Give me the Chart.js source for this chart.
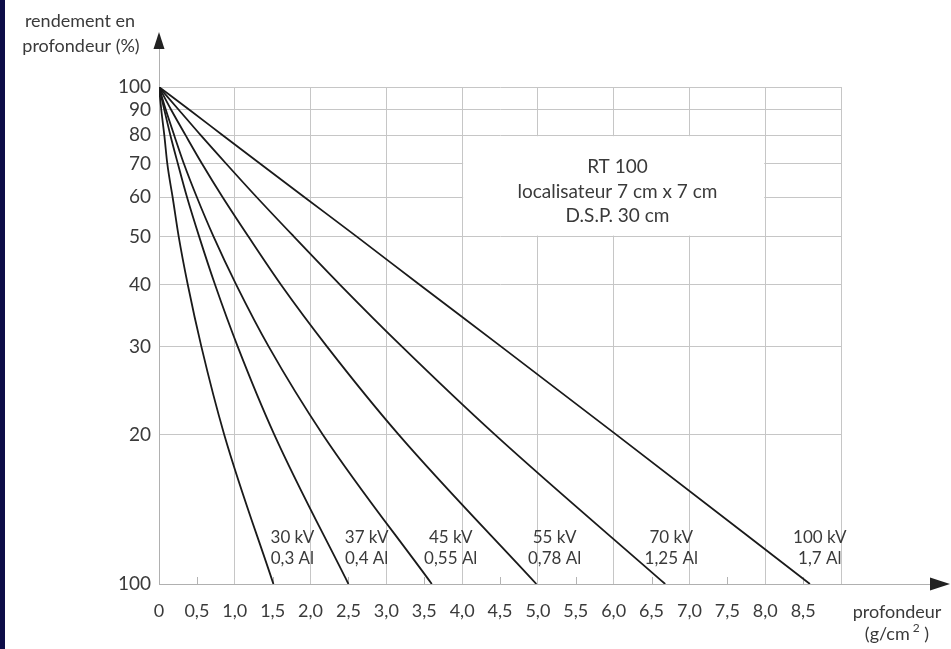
<!DOCTYPE html>
<html><head><meta charset="utf-8">
<script src="https://cdn.jsdelivr.net/npm/chart.js@4/dist/chart.umd.min.js"></script>
<style>
html,body{margin:0;padding:0;background:#fff;}
#wrap{position:relative;width:951px;height:649px;overflow:hidden;background:#fff;}
#edge{position:absolute;left:0;top:0;width:5px;height:649px;background:#0d0d48;}
canvas{position:absolute;left:0;top:0;}
</style></head><body>
<div id="wrap"><canvas id="c" width="951" height="649"></canvas><div id="edge"></div></div>
<script>
// ---- data ----
const doseLevels = [100, 90, 80, 70, 60, 50, 40, 30, 20, 10];   // % (log axis)
const depth30kV  = [0, 0.03, 0.07, 0.11, 0.18, 0.26, 0.38, 0.56, 0.86, 1.51];
const depth37kV  = [0, 0.07, 0.15, 0.25, 0.37, 0.53, 0.74, 1.04, 1.52, 2.50];
const depth45kV  = [0, 0.09, 0.20, 0.33, 0.50, 0.72, 1.02, 1.45, 2.16, 3.60];
const depth55kV  = [0, 0.16, 0.35, 0.57, 0.84, 1.18, 1.61, 2.22, 3.16, 4.98];
const depth70kV  = [0, 0.26, 0.55, 0.89, 1.29, 1.78, 2.39, 3.21, 4.43, 6.68];
const depth100kV = [0, 0.40, 0.84, 1.34, 1.92, 2.61, 3.44, 4.52, 6.03, 8.59];
const seriesKV     = ['30 kV', '37 kV', '45 kV', '55 kV', '70 kV', '100 kV'];
const seriesFilter = ['0,3 Al', '0,4 Al', '0,55 Al', '0,78 Al', '1,25 Al', '1,7 Al'];
const yTickValues = [100, 90, 80, 70, 60, 50, 40, 30, 20, 10];
const yTickLabels = ['100', '90', '80', '70', '60', '50', '40', '30', '20', '100'];
const xTickLabels = ['0','0,5','1,0','1,5','2,0','2,5','3,0','3,5','4,0','4,5','5,0','5,5','6,0','6,5','7,0','7,5','8,0','8,5',''];
const infoLines = ['RT 100', 'localisateur 7 cm x 7 cm', 'D.S.P. 30 cm'];
const xTitle = 'profondeur';
const yTitle = ['rendement en', 'profondeur (%)'];

// ---- label placement (data coords) ----
const seriesLabelX = [1.76, 2.74, 3.85, 5.22, 6.76, 8.72];

const allDepths = [depth30kV, depth37kV, depth45kV, depth55kV, depth70kV, depth100kV];
const FONT = 'Lato, "Open Sans", sans-serif';
const TXT = '#3a3a3a';

const extras = {
  id: 'extras',
  beforeDatasetsDraw(chart) {
    const {ctx, scales: {x, y}} = chart;
    ctx.save();
    // white info box hiding the grid
    const l = x.getPixelForValue(4) + 1, r = x.getPixelForValue(8) - 1;
    const t = y.getPixelForValue(80) + 1, b = y.getPixelForValue(50) - 1;
    ctx.fillStyle = '#fff';
    ctx.fillRect(l, t, r - l, b - t);
    // half-unit tick marks on the x axis
    ctx.strokeStyle = '#b4b4b4'; ctx.lineWidth = 1;
    for (let i = 1; i < xTickLabels.length; i += 2) {
      const px = Math.round(x.getPixelForValue(i * 0.5)) + 0.5;
      ctx.beginPath(); ctx.moveTo(px, y.bottom); ctx.lineTo(px, y.bottom - 7); ctx.stroke();
    }
    ctx.restore();
  },
  afterDraw(chart) {
    const {ctx, scales: {x, y}} = chart;
    const x0 = x.getPixelForValue(0), yb = y.bottom;
    ctx.save();
    // axis extensions
    ctx.strokeStyle = '#b0b0b0'; ctx.lineWidth = 1;
    ctx.beginPath(); ctx.moveTo(Math.round(x0) + 0.5, y.top); ctx.lineTo(Math.round(x0) + 0.5, 48); ctx.stroke();
    ctx.beginPath(); ctx.moveTo(x.right, Math.round(yb) + 0.5); ctx.lineTo(932, Math.round(yb) + 0.5); ctx.stroke();
    // arrow heads
    ctx.fillStyle = '#222';
    ctx.beginPath(); ctx.moveTo(x0, 32); ctx.lineTo(x0 + 5.5, 49); ctx.lineTo(x0 - 5.5, 49); ctx.closePath(); ctx.fill();
    ctx.beginPath(); ctx.moveTo(950, yb); ctx.lineTo(930, yb - 6.5); ctx.lineTo(930, yb + 6.5); ctx.closePath(); ctx.fill();

    ctx.fillStyle = TXT;
    ctx.textAlign = 'center'; ctx.textBaseline = 'middle';
    // y title
    ctx.font = '18px ' + FONT;
    ctx.fillText(yTitle[0], 80, 21);
    ctx.fillText(yTitle[1], 81, 46);
    // x title
    ctx.fillText(xTitle, 897, 612);
    const p1 = '(g/cm', p3 = ' )';
    ctx.font = '18px ' + FONT; const w1 = ctx.measureText(p1).width, w3 = ctx.measureText(p3).width;
    ctx.font = '12px ' + FONT; const w2 = ctx.measureText(' 2').width;
    let sx = 897 - (w1 + w2 + w3) / 2;
    ctx.textAlign = 'left';
    ctx.font = '18px ' + FONT; ctx.fillText(p1, sx, 634);
    ctx.font = '12px ' + FONT; ctx.fillText(' 2', sx + w1, 628);
    ctx.font = '18px ' + FONT; ctx.fillText(p3, sx + w1 + w2, 634);

    // info box text
    ctx.textAlign = 'center';
    ctx.font = '19px ' + FONT;
    const bx = x.getPixelForValue(6.05), bt = y.getPixelForValue(80);
    infoLines.forEach((s, i) => ctx.fillText(s, bx, bt + 32 + i * 24.5));

    // series labels
    ctx.font = '17px ' + FONT;
    seriesKV.forEach((s, i) => {
      const px = x.getPixelForValue(seriesLabelX[i]);
      ctx.fillText(s, px, yb - 46);
      ctx.fillText(seriesFilter[i], px, yb - 25);
    });
    ctx.restore();
  }
};

new Chart(document.getElementById('c'), {
  type: 'line',
  data: {
    datasets: allDepths.map((d, i) => ({
      label: seriesKV[i],
      data: d.map((v, j) => ({x: v, y: doseLevels[j]})),
      borderColor: '#1a1a1a',
      borderWidth: 1.8,
      pointRadius: 0,
      cubicInterpolationMode: 'monotone',
      fill: false
    }))
  },
  options: {
    responsive: false,
    animation: false,
    events: [],
    layout: {padding: {left: 0, top: 87, right: 110, bottom: 0}},
    plugins: {legend: {display: false}, tooltip: {enabled: false}},
    scales: {
      x: {
        type: 'linear', min: 0, max: 9,
        afterFit(s) { s.height = 65; },
        ticks: {
          stepSize: 0.5, autoSkip: false, maxRotation: 0, padding: 16,
          color: TXT, font: {family: FONT, size: 18},
          callback: (v, i) => xTickLabels[i]
        },
        grid: {
          drawTicks: false, lineWidth: 1,
          color: c => (c.tick && Number.isInteger(c.tick.value)) ? '#c6c6c6' : 'rgba(0,0,0,0)'
        },
        border: {display: true, color: '#b0b0b0'}
      },
      y: {
        type: 'logarithmic', min: 10, max: 100,
        afterFit(s) { s.width = 159; },
        afterBuildTicks(s) { s.ticks = yTickValues.map(v => ({value: v})); },
        ticks: {
          autoSkip: false, padding: 8,
          color: TXT, font: {family: FONT, size: 19},
          callback: (v, i) => yTickLabels[i]
        },
        grid: {drawTicks: false, color: '#c6c6c6', lineWidth: 1},
        border: {display: true, color: '#b0b0b0'}
      }
    }
  },
  plugins: [extras]
});
</script>
</body></html>
